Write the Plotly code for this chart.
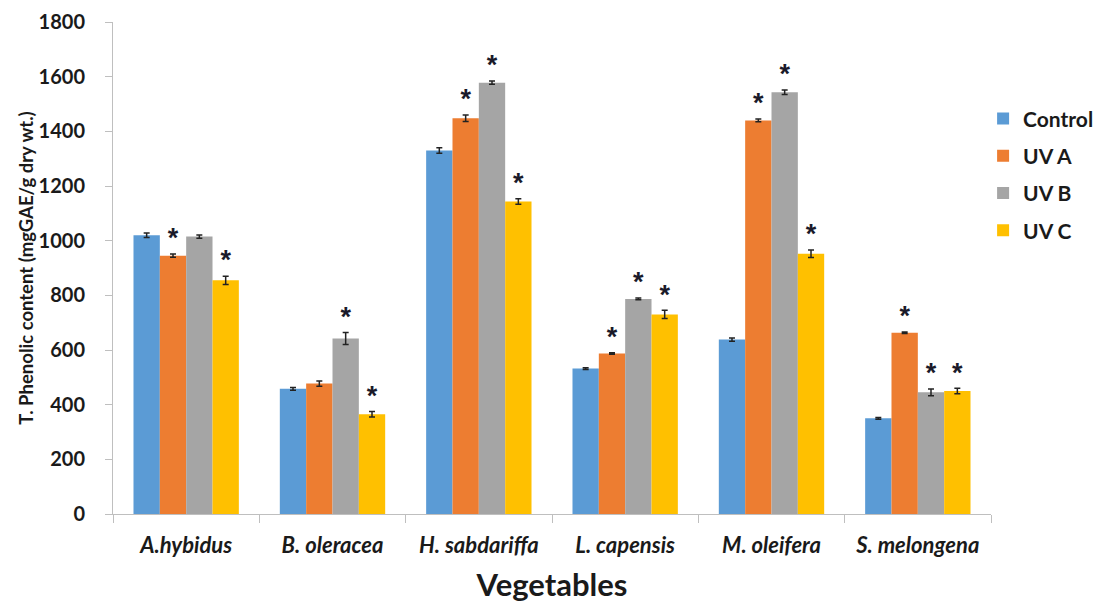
import plotly.graph_objects as go

categories = ["A.hybidus", "B. oleracea", "H. sabdariffa", "L. capensis", "M. oleifera", "S. melongena"]
series_names = ["Control", "UV A", "UV B", "UV C"]
control = [1020, 458, 1330, 532, 638, 350]
uv_a = [945, 477, 1448, 587, 1440, 663]
uv_b = [1015, 642, 1578, 787, 1543, 445]
uv_c = [855, 365, 1143, 730, 952, 450]
err_control = [8, 5, 10, 3, 6, 3]
err_uv_a = [6, 10, 12, 3, 5, 3]
err_uv_b = [6, 22, 6, 3, 8, 12]
err_uv_c = [15, 10, 10, 15, 14, 10]
sig_control = ["", "", "", "", "", ""]
sig_uv_a = ["*", "", "*", "*", "*", "*"]
sig_uv_b = ["", "*", "*", "*", "*", "*"]
sig_uv_c = ["*", "*", "*", "*", "*", "*"]

colors = ["#5B9BD5", "#ED7D31", "#A5A5A5", "#FFC000"]
values = [control, uv_a, uv_b, uv_c]
errors = [err_control, err_uv_a, err_uv_b, err_uv_c]
sigs = [sig_control, sig_uv_a, sig_uv_b, sig_uv_c]

FONT = "Lato"
fig = go.Figure()
for name, v, e, c in zip(series_names, values, errors, colors):
    fig.add_trace(go.Bar(
        name=name, x=categories, y=v, legendgroup=name,
        marker=dict(color=c, line=dict(width=0)),
        error_y=dict(type="data", array=e, color="#222222", thickness=1.5, width=3),
    ))
for name, v, e, s in zip(series_names, values, errors, sigs):
    fig.add_trace(go.Scatter(
        x=categories, y=[a + b for a, b in zip(v, e)], text=s, mode="text",
        textposition="top center", showlegend=False, hoverinfo="skip",
        textfont=dict(family="Liberation Sans", size=27, color="#1a1a2a", weight="bold"),
    ))

fig.update_layout(
    width=1106, height=603,
    paper_bgcolor="white", plot_bgcolor="white",
    barmode="group", bargap=0.28, bargroupgap=0,
    scattermode="group", scattergap=0.28,
    margin=dict(l=105, r=123, t=14, b=97, autoexpand=False),
    font=dict(family=FONT, color="#1a1a1a"),
    legend=dict(x=0.991, y=0.845, xanchor="left", yanchor="top",
                font=dict(family=FONT, size=21, color="#1a1a1a", weight="bold"),
                tracegroupgap=7, itemwidth=30),
    xaxis=dict(
        automargin=False,
        title=dict(text="Vegetables", font=dict(family=FONT, size=31, weight="bold"), standoff=16),
        tickfont=dict(family=FONT, size=22, weight="bold", style="italic"),
        tickangle=0,
        ticklabelstandoff=12,
        showline=True, linecolor="#BFBFBF", linewidth=1,
        ticks="outside", tickson="boundaries", ticklen=8, tickcolor="#BFBFBF",
        showgrid=False,
    ),
    yaxis=dict(
        automargin=False,
        title=dict(text="T. Phenolic content (mgGAE/g dry wt.)", font=dict(family=FONT, size=18.5, weight="bold"), standoff=0),
        tickfont=dict(family=FONT, size=20, weight="bold"),
        ticklabelstandoff=16,
        range=[0, 1800], dtick=200,
        showline=True, linecolor="#BFBFBF", linewidth=1,
        ticks="outside", ticklen=7, tickcolor="#BFBFBF",
        showgrid=False, zeroline=False,
    ),
)
fig.write_html("out.html")
